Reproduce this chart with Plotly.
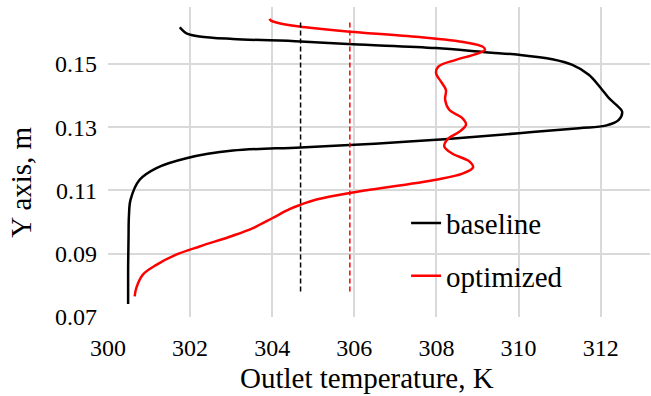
import plotly.graph_objects as go

# Baseline profile (outlet temperature K, Y position m)
base_T = [300.49, 300.49, 300.50, 300.51, 300.55, 300.77, 301.18, 301.91, 303.04, 304.69,
          306.50, 308.19, 310.01, 311.47, 312.12, 312.44, 312.52, 312.40, 312.20, 312.00,
          311.71, 311.31, 310.82, 310.01, 309.20, 307.99, 305.96, 304.69, 303.04, 302.23,
          301.91, 301.79, 301.75]
base_Y = [0.0741, 0.0850, 0.0950, 0.1020, 0.1071, 0.1134, 0.1171, 0.1202, 0.1226, 0.1236,
          0.1248, 0.1262, 0.1281, 0.1297, 0.1305, 0.1323, 0.1350, 0.1368, 0.1392, 0.1424,
          0.1466, 0.1497, 0.1515, 0.1529, 0.1537, 0.1550, 0.1562, 0.1571, 0.1579, 0.1587,
          0.1597, 0.1610, 0.1616]

# Optimized profile
opt_T = [300.65, 300.69, 300.85, 301.18, 301.66, 302.23, 303.04, 303.53, 304.01, 304.42,
         304.69, 305.10, 305.89, 307.99, 308.63, 308.89, 308.80, 308.39, 308.19, 308.27,
         308.56, 308.72, 308.63, 308.31, 308.21, 308.23, 308.11, 307.99, 308.05, 308.47,
         308.96, 309.18, 309.12, 308.72, 307.58, 305.89, 305.15, 304.66, 304.10, 303.97,
         303.93]
opt_Y = [0.0765, 0.0792, 0.0834, 0.0865, 0.0897, 0.0923, 0.0957, 0.0981, 0.1013, 0.1041,
         0.1055, 0.1072, 0.1092, 0.1134, 0.1153, 0.1173, 0.1192, 0.1216, 0.1239, 0.1262,
         0.1286, 0.1308, 0.1329, 0.1355, 0.1387, 0.1418, 0.1444, 0.1471, 0.1492, 0.1513,
         0.1531, 0.1545, 0.1555, 0.1568, 0.1585, 0.1602, 0.1611, 0.1618, 0.1631, 0.1637,
         0.1642]

# Mean outlet temperatures (dashed lines)
base_mean = 304.69
opt_mean = 305.89
mean_Y = [0.0781, 0.1638]

x_ticks = [300, 302, 304, 306, 308, 310, 312]
y_ticks = [0.07, 0.09, 0.11, 0.13, 0.15]

x_title = "Outlet temperature, K"
y_title = "Y axis, m"

FONT = "Times New Roman, Liberation Serif, DejaVu Serif, serif"

fig = go.Figure()
fig.add_trace(go.Scatter(x=base_T, y=base_Y, mode="lines", name="baseline",
                         legendgroup="b",
                         line=dict(color="black", width=2.5, shape="spline", smoothing=1.0)))
fig.add_trace(go.Scatter(x=opt_T, y=opt_Y, mode="lines", name="optimized",
                         legendgroup="o",
                         line=dict(color="red", width=2.5, shape="spline", smoothing=1.0)))
fig.add_trace(go.Scatter(x=[base_mean, base_mean], y=mean_Y, mode="lines", showlegend=False,
                         line=dict(color="black", width=1.5, dash="5px,3px")))
fig.add_trace(go.Scatter(x=[opt_mean, opt_mean], y=mean_Y, mode="lines", showlegend=False,
                         line=dict(color="red", width=1.5, dash="5px,3px")))

fig.update_layout(
    width=651, height=396,
    margin=dict(l=108, r=1, t=7, b=79),
    paper_bgcolor="white", plot_bgcolor="white",
    font=dict(family=FONT, size=24, color="black"),
    showlegend=True,
    legend=dict(x=0.55, y=0.385, xanchor="left", yanchor="top",
                bgcolor="rgba(0,0,0,0)", font=dict(size=29, family=FONT),
                traceorder="grouped", tracegroupgap=12, itemwidth=30),
    xaxis=dict(range=[300, 313.2], tickvals=x_ticks, ticktext=[str(v) for v in x_ticks],
               showgrid=True, gridcolor="#d9d9d9", gridwidth=1.5, zeroline=False,
               showline=False, ticks="", tickfont=dict(size=24, family=FONT),
               ticklabelstandoff=14),
    yaxis=dict(range=[0.07, 0.168], tickvals=y_ticks, ticktext=["%.2f" % v for v in y_ticks],
               showgrid=True, gridcolor="#d9d9d9", gridwidth=1.5, zeroline=False,
               showline=False, ticks="", tickfont=dict(size=24, family=FONT), ticklabelstandoff=10),
    annotations=[
        dict(text=x_title, xref="paper", yref="paper", x=0.478, y=-0.197,
             xanchor="center", yanchor="middle", showarrow=False,
             font=dict(size=29, family=FONT, color="black")),
        dict(text=y_title, xref="paper", yref="paper", x=-0.16, y=0.434,
             xanchor="center", yanchor="middle", showarrow=False, textangle=-90,
             font=dict(size=29, family=FONT, color="black")),
    ],
)

fig.write_html("out.html")
